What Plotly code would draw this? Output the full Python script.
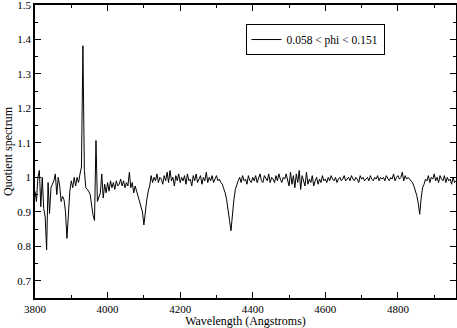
import plotly.graph_objects as go

# Sampling of the spectrum (Angstroms)
WAVE_START = 3800
WAVE_STEP = 4

# Quotient spectrum values (one row = 40 Angstroms)
quotient = [
    0.96, 0.93, 1.0, 1.02, 0.915, 1.0, 0.91, 0.885, 0.79, 0.985,
    0.895, 0.97, 0.98, 0.99, 1.01, 0.95, 1.0, 0.975, 0.93, 0.945,
    0.935, 0.90, 0.823, 0.905, 0.96, 0.99, 0.97, 1.0, 0.975, 1.0,
    0.985, 1.01, 1.03, 1.382, 1.02, 0.97, 0.965, 0.96, 0.95, 0.915,
    0.89, 0.875, 1.107, 0.93, 0.945, 0.955, 1.01, 0.94, 0.98, 0.955,
    0.985, 0.96, 0.99, 0.97, 0.985, 0.965, 0.99, 0.975, 0.98, 0.995,
    0.975, 0.99, 0.97, 0.985, 0.975, 1.015, 0.97, 0.985, 0.955, 0.975,
    0.96, 0.945, 0.935, 0.915, 0.90, 0.862, 0.91, 0.935, 0.96, 0.975,
    1.005, 0.985, 1.0, 0.99, 1.01, 0.985, 1.0, 0.995, 0.98, 1.005,
    0.99, 1.015, 0.985, 1.02, 0.99, 1.0, 0.975, 1.005, 0.99, 1.01,
    0.985, 1.0, 0.99, 1.005, 0.98, 1.01, 0.99, 0.995, 0.975, 1.005,
    0.99, 1.01, 0.985, 0.995, 1.005, 0.98, 1.0, 0.99, 1.015, 0.985,
    1.0, 0.99, 1.005, 0.985, 0.995, 1.005, 0.99, 0.995, 0.985, 0.98,
    0.967, 0.955, 0.935, 0.91, 0.875, 0.845, 0.90, 0.935, 0.965, 0.98,
    0.99, 1.0, 0.985, 1.005, 0.99, 0.995, 0.98, 1.005, 0.99, 0.985,
    1.0, 0.99, 1.005, 0.985, 0.995, 1.01, 0.99, 0.985, 1.005, 0.995,
    0.99, 1.01, 0.985, 1.0, 0.995, 0.985, 1.005, 0.99, 1.01, 0.995,
    0.985, 1.0, 0.995, 1.01, 0.99, 0.975, 1.015, 0.98, 1.005, 0.97,
    1.01, 0.985, 1.02, 0.965, 1.005, 0.99, 0.975, 1.015, 0.98, 0.995,
    0.985, 1.005, 0.975, 0.99, 1.0, 0.98, 0.995, 0.985, 1.005, 0.99,
    0.995, 0.985, 1.0, 0.99, 1.005, 0.995, 0.99, 1.0, 0.985, 0.995,
    1.0, 0.99, 0.995, 1.005, 0.99, 0.995, 1.0, 0.99, 1.005, 0.995,
    0.99, 1.0, 0.995, 0.985, 1.005, 0.995, 1.0, 0.99, 0.995, 1.0,
    0.99, 1.005, 0.995, 0.99, 1.0, 0.995, 1.005, 0.99, 1.0, 0.995,
    1.0, 0.99, 1.005, 0.995, 0.99, 1.0, 0.995, 1.01, 0.99, 1.0,
    1.005, 0.995, 1.0, 1.015, 0.99, 1.005, 0.995, 1.0, 0.995, 0.99,
    0.985, 0.975, 0.962, 0.947, 0.925, 0.893, 0.94, 0.97, 0.98, 0.995,
    0.99, 1.005, 0.985, 1.0, 0.995, 1.01, 0.99, 1.0, 0.985, 1.005,
    0.995, 0.99, 1.005, 0.985, 1.0, 0.99, 0.995, 0.98, 1.0, 0.985,
    0.99,
]
wavelength = [WAVE_START + WAVE_STEP * i for i in range(len(quotient))]

series_name = "0.058 < phi < 0.151"
x_title = "Wavelength (Angstroms)"
y_title = "Quotient spectrum"
x_tickvals = [3800, 4000, 4200, 4400, 4600, 4800]
y_tickvals = [0.7, 0.8, 0.9, 1.0, 1.1, 1.2, 1.3, 1.4, 1.5]
y_ticktext = ["0.7", "0.8", "0.9", "1", "1.1", "1.2", "1.3", "1.4", "1.5"]

FONT = "Liberation Serif, Times New Roman, serif"

fig = go.Figure()
fig.add_trace(go.Scatter(
    x=wavelength, y=quotient, mode="lines", name=series_name,
    line=dict(color="black", width=1),
))

axis_common = dict(
    showline=True, linecolor="black", linewidth=1.5, mirror="ticks",
    ticks="inside", ticklen=6, tickwidth=1, tickcolor="black",
    showgrid=False, zeroline=False, automargin=False,
    ticklabeloverflow="allow",
    tickfont=dict(family=FONT, size=11, color="black"),
    title_font=dict(family=FONT, size=12, color="black"),
)

fig.update_xaxes(
    range=[3800, 4960], tickvals=x_tickvals, title_text=x_title,
    title_standoff=0,
    minor=dict(ticks="inside", dtick=100, tick0=3800, ticklen=3,
               tickcolor="black", showgrid=False),
    **axis_common,
)
fig.update_yaxes(
    range=[0.65, 1.5001], tickvals=y_tickvals, ticktext=y_ticktext,
    title_text=y_title, title_standoff=2,
    minor=dict(ticks="inside", dtick=0.05, tick0=0.65, ticklen=3,
               tickcolor="black", showgrid=False),
    **axis_common,
)

fig.update_layout(
    width=457, height=328,
    margin=dict(l=35, r=1, t=5, b=30),
    plot_bgcolor="white", paper_bgcolor="white",
    showlegend=True,
    legend=dict(
        x=0.5, y=0.935, xanchor="left", yanchor="top",
        bgcolor="white", bordercolor="black", borderwidth=1,
        font=dict(family=FONT, size=11.5, color="black"),
        itemwidth=30,
    ),
)

fig.write_html(
    "out.html",
    config={"displayModeBar": False},
    post_script="document.body.style.margin='0';document.body.style.overflow='hidden';",
)
